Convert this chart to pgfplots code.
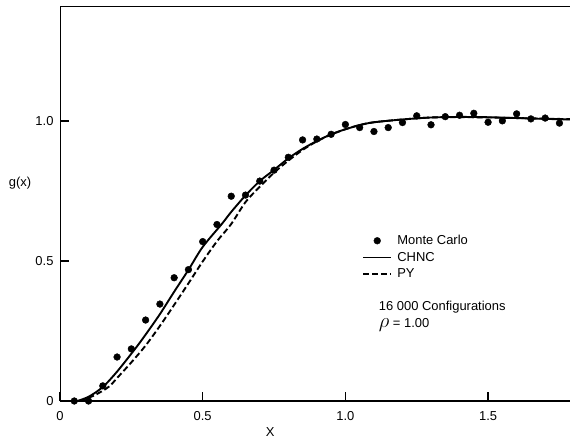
\documentclass[border=0pt]{standalone}
\usepackage{pgfplots}
\pgfplotsset{compat=1.18}
\usepackage{fontspec}
\setmainfont{Liberation Sans}
\pgfplotsset{
  linelegend/.style={legend image code/.code={\draw[##1] (0cm,0cm) -- (1cm,0cm);}},
  dotlegend/.style={legend image code/.code={\draw[##1] plot coordinates {(0.5cm,0cm)};}},
}
\begin{document}
\begin{tikzpicture}
\begin{axis}[
  scale only axis,
  width=510bp, height=395bp,
  xmin=0, xmax=1.787, ymin=0, ymax=1.41,
  axis line style={draw=none},
  tick align=inside,
  xtick={0,0.5,1,1.5}, xticklabels={0,0.5,1.0,1.5},
  ytick={0,0.5,1}, yticklabels={0,0.5,1.0},
  xtick pos=bottom, ytick pos=left,
  major tick length=9bp,
  tick style={line width=1.6pt, black},
  font=\fontsize{13}{15}\selectfont,
  /pgf/number format/assume math mode=true,
  xticklabel style={yshift=-7bp},
  yticklabel style={xshift=-3bp},
  xlabel={X},
  xlabel style={at={(rel axis cs:0.412,0)}, anchor=center, yshift=-31bp},
  ylabel={g(x)},
  ylabel style={at={(rel axis cs:0,0.552)}, rotate=-90, anchor=center, xshift=-40bp},
  legend style={draw=none, fill=none, at={(rel axis cs:0.592,0.425)}, anchor=north west,
    font=\fontsize{13}{15}\selectfont, row sep=2bp, inner sep=0pt,
    nodes={inner xsep=5bp},
    /tikz/every even column/.append style={column sep=4bp}},
  legend cell align=left,
]
\draw[line width=2pt] (rel axis cs:0,1) -- (rel axis cs:0,0) -- (rel axis cs:1,0);
\draw[line width=2pt] (rel axis cs:0,1) -- (rel axis cs:1,1);

\addplot[only marks, mark=*, mark size=3.4pt, black, dotlegend]
coordinates {
(0.05,0.00)(0.10,0.00)(0.15,0.054)(0.20,0.157)(0.25,0.186)(0.30,0.289)
(0.35,0.346)(0.40,0.44)(0.45,0.469)(0.50,0.569)(0.55,0.630)(0.60,0.731)
(0.65,0.735)(0.70,0.785)(0.75,0.824)(0.80,0.870)(0.85,0.932)(0.90,0.935)
(0.95,0.952)(1.00,0.987)(1.05,0.976)(1.10,0.962)(1.15,0.976)(1.20,0.994)
(1.25,1.018)(1.30,0.986)(1.35,1.015)(1.40,1.020)(1.45,1.027)(1.50,0.995)
(1.55,1.000)(1.60,1.025)(1.65,1.007)(1.70,1.010)(1.75,0.992)
};
\addlegendentry{Monte Carlo}

\addplot[black, line width=1.9pt, smooth, mark=none, linelegend]
coordinates {
(0.06,0)(0.10,0.015)(0.15,0.05)(0.20,0.105)(0.263,0.186)(0.30,0.237)(0.35,0.31)
(0.40,0.39)(0.45,0.468)(0.50,0.55)(0.567,0.632)(0.60,0.675)(0.651,0.735)
(0.70,0.785)(0.75,0.825)(0.80,0.866)(0.85,0.9)(0.90,0.928)(0.95,0.952)
(1.0,0.97)(1.05,0.985)(1.10,0.995)(1.20,1.005)(1.30,1.012)(1.40,1.014)
(1.50,1.013)(1.60,1.01)(1.70,1.007)(1.787,1.005)
};
\addlegendentry{CHNC}

\addplot[black, line width=1.9pt, smooth, mark=none, dash pattern=on 6pt off 3pt, linelegend]
coordinates {
(0.07,0)(0.12,0.02)(0.17,0.05)(0.20,0.082)(0.25,0.138)(0.30,0.198)(0.35,0.268)
(0.40,0.343)(0.45,0.42)(0.50,0.498)(0.55,0.57)(0.60,0.632)(0.65,0.71)
(0.70,0.765)(0.75,0.815)(0.80,0.858)(0.85,0.896)(0.90,0.927)(0.95,0.951)
(1.0,0.97)(1.05,0.985)(1.10,0.995)(1.20,1.005)(1.30,1.012)(1.40,1.013)
(1.50,1.012)(1.60,1.01)(1.70,1.008)(1.787,1.006)
};
\addlegendentry{PY}

\node[anchor=west, font=\fontsize{13}{15}\selectfont] at (axis cs:1.105,0.336) {16 000 Configurations};
\node[anchor=west, font=\fontsize{13}{15}\selectfont] at (axis cs:1.105,0.27) {{\fontsize{20}{20}\selectfont$\rho$} = 1.00};
\end{axis}
\path ([xshift=-60bp,yshift=-38bp]current axis.south west) rectangle ([yshift=6bp]current axis.north east);
\end{tikzpicture}
\end{document}
